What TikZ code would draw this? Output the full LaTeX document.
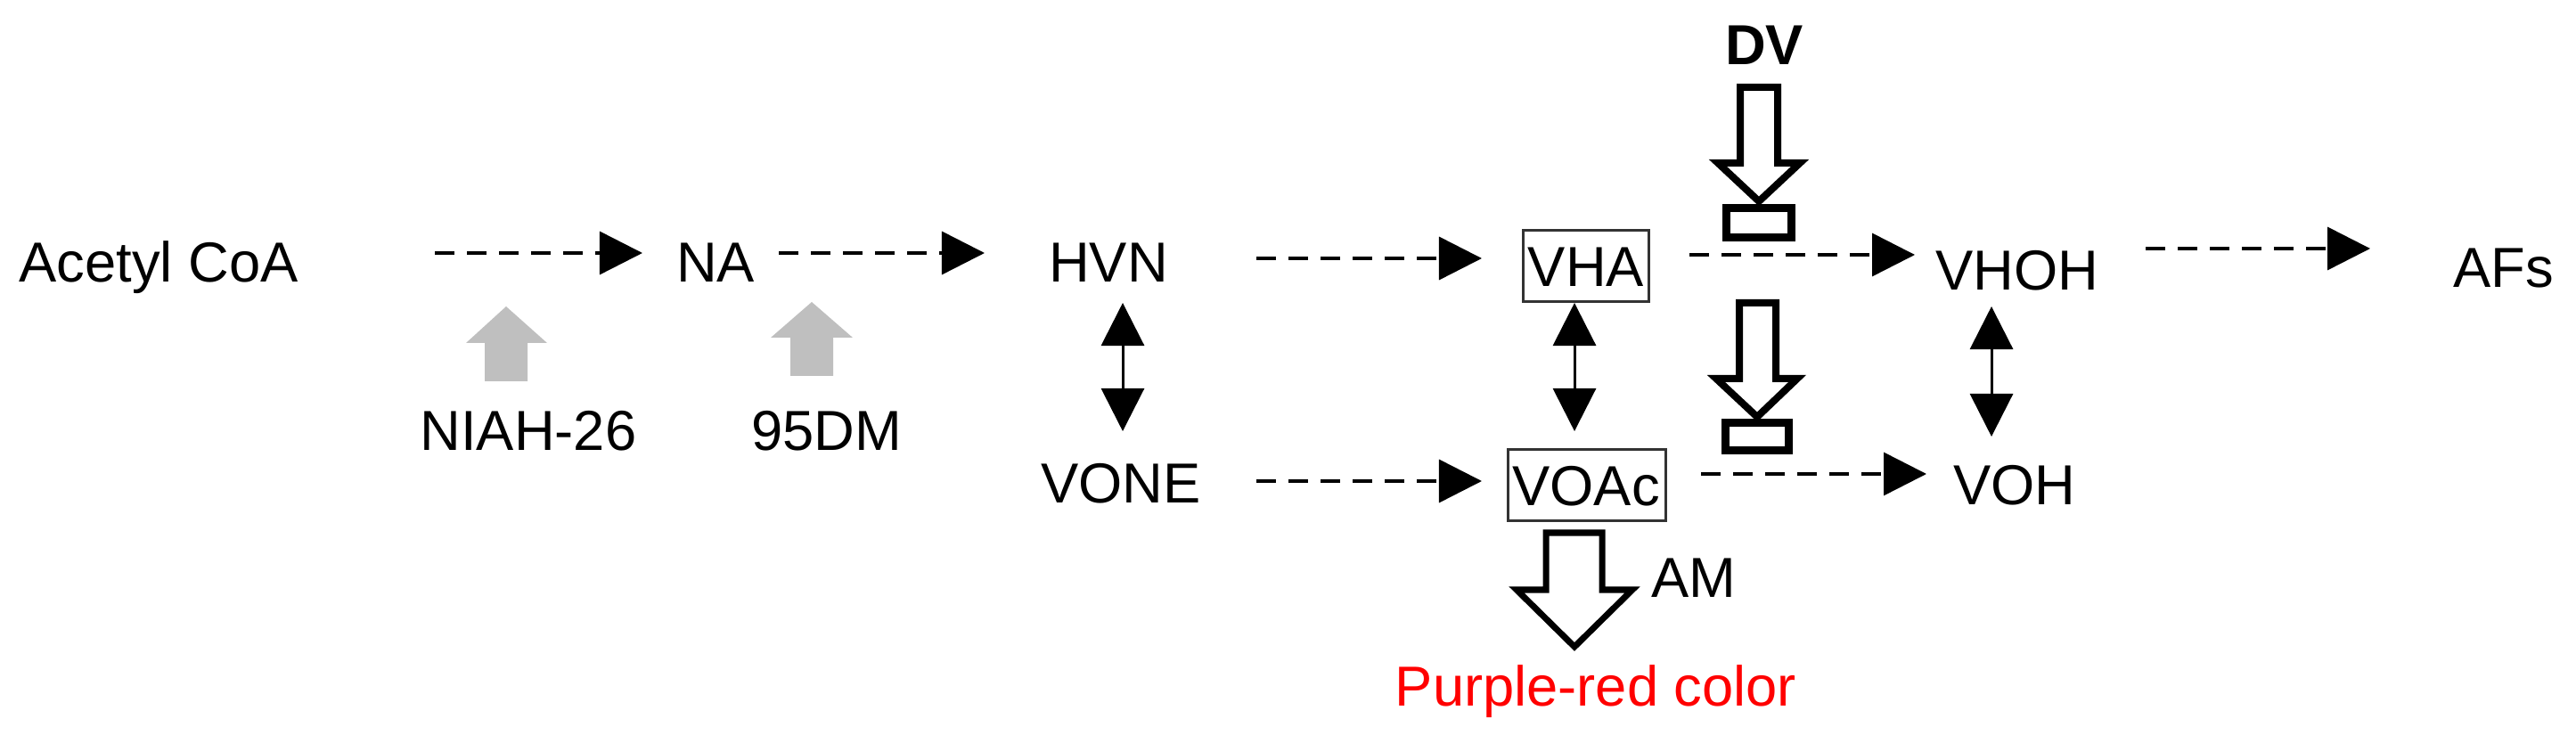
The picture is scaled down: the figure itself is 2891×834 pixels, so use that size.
\documentclass[tikz,border=0pt]{standalone}
\usepackage{fontspec}
\setmainfont{Liberation Sans}
\usetikzlibrary{arrows.meta}
\begin{document}
\begin{tikzpicture}[x=0.01cm,y=-0.01cm,
  txt/.style={inner sep=0pt,font=\fontsize{18}{22}\selectfont,text height=12.9pt,text depth=0pt},
  flow/.style={line width=0.035cm,dash pattern=on 0.22cm off 0.14cm,-{Triangle[length=0.48cm,width=0.48cm]}},
  eq/.style={line width=0.03cm,{Triangle[length=0.48cm,width=0.48cm]}-{Triangle[length=0.48cm,width=0.48cm]}},
  hollow/.style={line width=0.08cm,draw=black,fill=white,line join=miter},
  bar/.style={line width=0.09cm,draw=black,fill=white},
  grey/.style={fill=black!25,draw=none},
  frame/.style={line width=0.03cm,draw=black!80}]
\useasboundingbox (0,0) rectangle (2891,834);
% nodes
\node[txt] (acoa) at (178,294) {Acetyl CoA};
\node[txt] (na) at (803,294) {NA};
\node[txt] (hvn) at (1244,294) {HVN};
\node[txt] (vone) at (1258,542) {VONE};
\node[txt] (vha) at (1780,299) {VHA};
\node[txt] (voac) at (1780,545) {VOAc};
\node[txt] (vhoh) at (2264,303) {VHOH};
\node[txt] (voh) at (2261,544) {VOH};
\node[txt] (afs) at (2810,300) {AFs};
\node[txt] (niah) at (593,483) {NIAH-26};
\node[txt] (dm) at (928,483) {95DM};
\node[txt] (am) at (1901,648) {AM};
\node[txt,text=red] (pr) at (1791,770) {Purple-red color};
\node[txt,font=\fontsize{18}{22}\selectfont\bfseries] (dv) at (1980,50) {DV};
% frames
\draw[frame] (1709,259) rectangle (1850,339);
\draw[frame] (1692,505) rectangle (1869,585);
% flow connectors
\coordinate (c1s) at (488,284); \coordinate (c1e) at (721,284);
\coordinate (c2s) at (874,284); \coordinate (c2e) at (1105,284);
\coordinate (c3s) at (1410,290); \coordinate (c3e) at (1663,290);
\coordinate (c4s) at (1896,286); \coordinate (c4e) at (2149,286);
\coordinate (c5s) at (2408,279); \coordinate (c5e) at (2660,279);
\coordinate (c6s) at (1410,540); \coordinate (c6e) at (1663,540);
\coordinate (c7s) at (1909,532); \coordinate (c7e) at (2162,532);
\draw[flow] (c1s) -- (c1e);
\draw[flow] (c2s) -- (c2e);
\draw[flow] (c3s) -- (c3e);
\draw[flow] (c4s) -- (c4e);
\draw[flow] (c5s) -- (c5e);
\draw[flow] (c6s) -- (c6e);
\draw[flow] (c7s) -- (c7e);
% equilibria
\coordinate (e1s) at (1260,340); \coordinate (e1e) at (1260,484);
\coordinate (e2s) at (1767,340); \coordinate (e2e) at (1767,484);
\coordinate (e3s) at (2235,344); \coordinate (e3e) at (2235,490);
\draw[eq] (e1s) -- (e1e);
\draw[eq] (e2s) -- (e2e);
\draw[eq] (e3s) -- (e3e);
% grey arrows
\fill[grey] (568,344) -- (614,385) -- (592,385) -- (592,428) -- (544,428) -- (544,385) -- (523,385) -- cycle;
\fill[grey] (911,339) -- (957,379) -- (935,379) -- (935,422) -- (887,422) -- (887,379) -- (865,379) -- cycle;
% DV inhibition arrows
\draw[hollow] (1953,98) -- (1995,98) -- (1995,183) -- (2020,183) -- (1974,226) -- (1928,183) -- (1953,183) -- cycle;
\draw[bar] (1937,234) rectangle (2010,267);
\draw[hollow] (1952,340) -- (1993,340) -- (1993,425) -- (2017,425) -- (1972,468) -- (1926,425) -- (1952,425) -- cycle;
\draw[bar] (1936,475) rectangle (2007,506);
% AM arrow
\draw[hollow,line width=0.07cm] (1735,598) -- (1798,598) -- (1798,662) -- (1832,662) -- (1767,726) -- (1702,662) -- (1735,662) -- cycle;
\end{tikzpicture}
\end{document}
